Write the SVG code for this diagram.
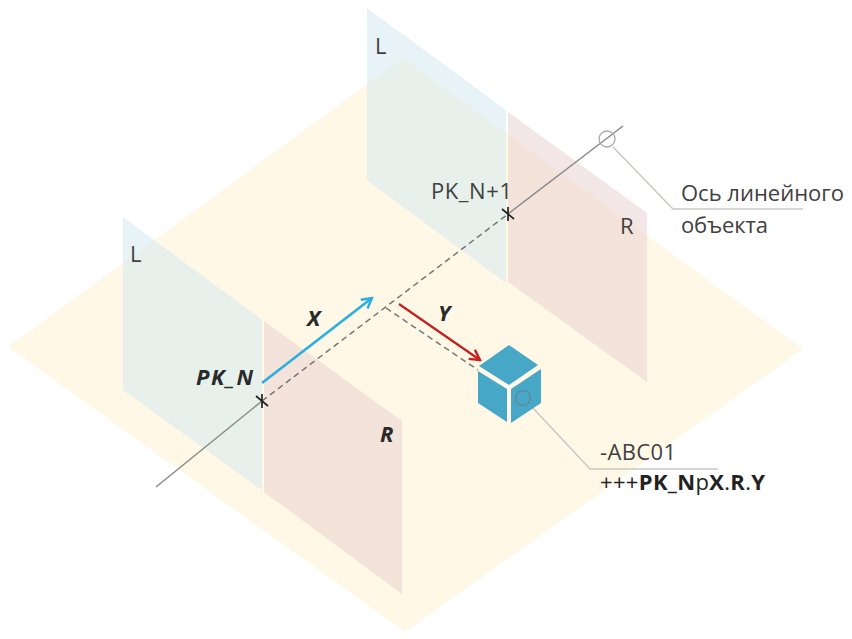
<svg xmlns="http://www.w3.org/2000/svg" width="852" height="639" viewBox="0 0 852 639">
<style>
.l{fill:#cfe7ee;fill-opacity:.5}
.r{fill:#e7cdcd;fill-opacity:.5}
.t{font-family:"Open Sans","Noto Sans",sans-serif;font-size:22px;fill:#404040}
.b{font-weight:bold;font-style:italic;fill:#2a2a2a}
.ax{stroke:#8a8a8a;stroke-width:1.5;fill:none}
.d{stroke:#777;stroke-width:1.5;stroke-dasharray:6 4;fill:none}
.lead{stroke:#c9c9c4;stroke-width:1.5;fill:none}
.x{stroke:#222;stroke-width:1.7;fill:none}
.cf{fill:#46a7c6}
</style>
<defs>
<marker id="ab" markerUnits="userSpaceOnUse" markerWidth="14" markerHeight="14" refX="12" refY="7" orient="auto"><path d="M2 1.5L12 7L2 12.5" fill="none" stroke="#2aafe0" stroke-width="2.4"/></marker>
<marker id="ar" markerUnits="userSpaceOnUse" markerWidth="14" markerHeight="14" refX="12" refY="7" orient="auto"><path d="M2 1.5L12 7L2 12.5" fill="none" stroke="#c4201f" stroke-width="2.4"/></marker>
</defs>
<rect width="852" height="639" fill="#fff"/>
<g id="ground"><polygon points="8,347 403,58 803,349 405,632" fill="#fff8e7"/></g>
<g id="plane-n">
<polygon class="l" points="123,217 262,320 262,490 123,390"/>
<polygon class="r" points="264,321 402,421 402,594 264,492"/>
<text class="t" x="130" y="262">L</text>
<text class="t b" x="380" y="442">R</text>
<text class="t b" x="196" y="385" textLength="57">PK_N</text>
</g>
<g id="plane-n1">
<polygon class="l" points="367,8 506,110 506,283 367,180"/>
<polygon class="r" points="508,112 647,213 647,382 508,282"/>
<text class="t" x="375" y="54">L</text>
<text class="t" x="620" y="234">R</text>
<text class="t" x="431" y="199" textLength="81">PK_N+1</text>
</g>
<g id="connectors">
<path class="ax" d="M156 487L262 401"/>
<path class="ax" d="M508 214L623 126"/>
<path class="d" d="M262 401L508 214"/>
<path class="d" d="M386 308L478 370"/>
<path class="x" d="M256 396L268 406M262 394L262 408"/>
<path class="x" d="M502 209L514 219M508 207L508 221"/>
<path d="M262 383L372 298" stroke="#2aafe0" stroke-width="2.6" fill="none" marker-end="url(#ab)"/>
<path d="M399 304L480 360" stroke="#c4201f" stroke-width="2.2" fill="none" marker-end="url(#ar)"/>
<path class="lead" d="M613 147L673 209H803"/>
<path class="lead" d="M533 408L590 469H718"/>
<circle cx="607" cy="139" r="8" fill="none" stroke="#a8a8a8" stroke-width="1.3"/>
</g>
<g id="axis-labels">
<text class="t b" x="307" y="326">X</text>
<text class="t b" x="438" y="321">Y</text>
</g>
<g id="cube">
<polygon class="cf" points="509,345 538,365 509,385 479,366"/>
<polygon class="cf" points="478,371 507,389 507,422 478,403"/>
<polygon class="cf" points="511,389 541,369 541,403 511,423"/>
<circle cx="523" cy="398" r="7.5" fill="none" stroke="#5b8c9e" stroke-width="1.5"/>
</g>
<g id="label-axis">
<text class="t" x="681" y="201" textLength="163">Ось линейного</text>
<text class="t" x="681" y="233" textLength="87">объекта</text>
</g>
<g id="label-object">
<text class="t" x="600" y="460" textLength="76">-ABC01</text>
<text class="t" x="600" y="490" textLength="165" style="fill:#222">+++<tspan font-weight="bold">PK_N</tspan>p<tspan font-weight="bold">X</tspan>.<tspan font-weight="bold">R</tspan>.<tspan font-weight="bold">Y</tspan></text>
</g>
</svg>
